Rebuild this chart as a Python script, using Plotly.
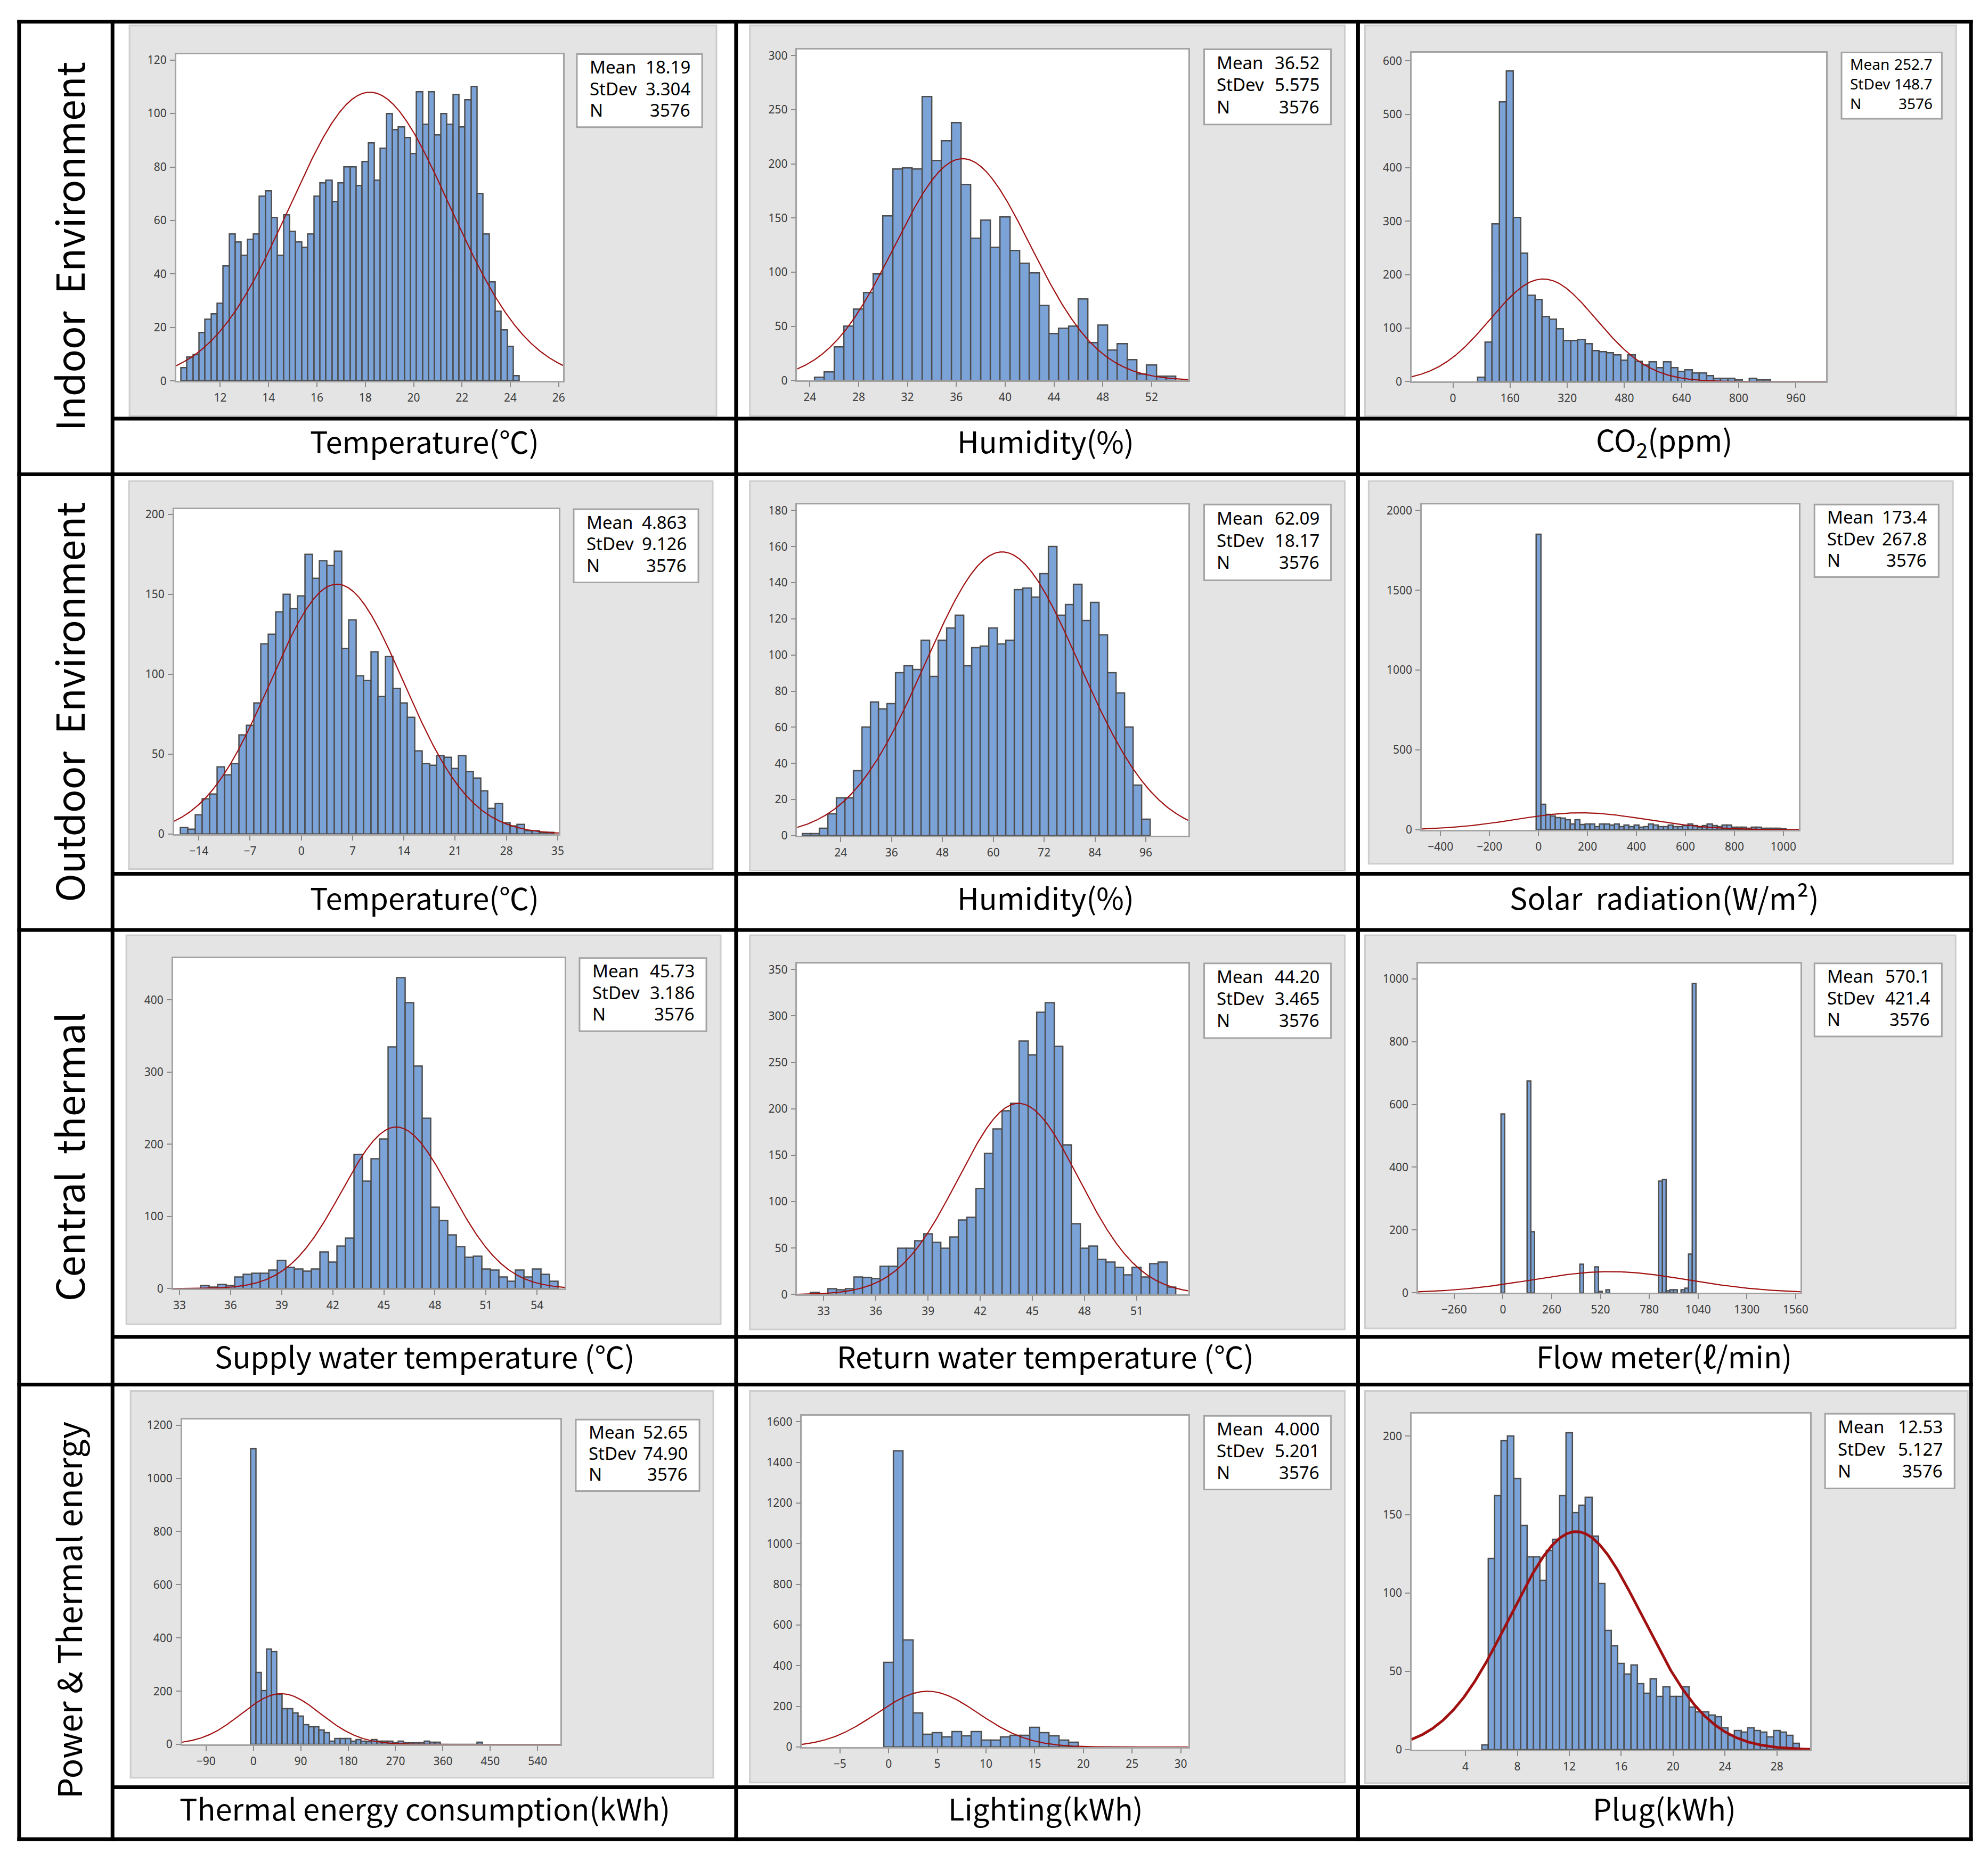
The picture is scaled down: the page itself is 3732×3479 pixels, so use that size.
import numpy as np
import plotly.graph_objects as go

W, H = 3732, 3479
N_OBS = 3576

# ------------------------------------------------------------------ data
# Indoor temperature (degC)
IN_TEMP_START, IN_TEMP_BW = 10.5, 0.25
IN_TEMP_COUNTS = [5, 9, 10, 18, 23, 25, 29, 43, 55, 52, 47, 53, 55, 69, 71, 61, 47, 62, 56, 52,
                  50, 55, 69, 74, 75, 67, 74, 80, 80, 73, 82, 89, 75, 87, 100, 94, 95, 91, 85, 108,
                  96, 108, 92, 100, 96, 107, 95, 105, 110, 70, 55, 37, 26, 19, 13, 2]
# Indoor humidity (%)
IN_HUM_START, IN_HUM_BW = 24.8, 0.8
IN_HUM_COUNTS = [3, 8, 31, 50, 66, 81, 98, 152, 195, 196, 195, 262, 203, 221, 238, 181, 131, 148,
                 123, 151, 120, 108, 99, 69, 43, 48, 50, 75, 35, 51, 28, 34, 19, 6, 14, 4, 4]
# Indoor CO2 (ppm)
CO2_START, CO2_BW = 80, 20
CO2_COUNTS = [8, 74, 295, 523, 581, 307, 240, 161, 153, 121, 116, 98, 77, 77, 79, 71, 58, 56, 54,
              50, 40, 50, 38, 31, 37, 26, 37, 26, 19, 22, 16, 16, 11, 6, 6, 6, 3, 0, 6, 3, 3]
# Outdoor temperature (degC)
OUT_TEMP_START, OUT_TEMP_BW = -16, 1
OUT_TEMP_COUNTS = [4, 3, 12, 22, 25, 42, 37, 44, 62, 68, 82, 119, 125, 139, 150, 141, 149, 175, 160,
                   171, 168, 177, 116, 134, 99, 96, 114, 86, 111, 91, 82, 73, 52, 44, 43, 49, 48, 41,
                   49, 39, 35, 27, 16, 19, 7, 5, 6, 2, 2, 1, 1]
# Outdoor humidity (%)
OUT_HUM_START, OUT_HUM_BW = 16, 2
OUT_HUM_COUNTS = [1, 1, 4, 12, 21, 21, 36, 60, 74, 70, 73, 90, 94, 92, 108, 88, 108, 115, 122, 94,
                  104, 105, 115, 106, 108, 136, 137, 132, 145, 160, 122, 128, 139, 119, 129, 111, 90,
                  79, 60, 28, 9]
# Solar radiation (W/m2)
SOLAR_START, SOLAR_BW = 0, 20
SOLAR_COUNTS = [1850, 161, 97, 85, 77, 72, 64, 37, 64, 32, 37, 37, 21, 37, 37, 29, 37, 21, 29, 21,
                29, 16, 21, 37, 29, 21, 21, 29, 21, 21, 26, 37, 26, 16, 26, 37, 26, 21, 29, 29, 16,
                16, 16, 10, 16, 16, 10, 10, 10, 10, 5]
# Supply water temperature (degC)
SUPPLY_START, SUPPLY_BW = 34.5, 0.5
SUPPLY_COUNTS = [4, 2, 6, 4, 16, 20, 21, 21, 26, 39, 29, 27, 24, 27, 51, 37, 59, 70, 186, 149, 180,
                 207, 335, 431, 396, 308, 236, 113, 94, 74, 58, 43, 45, 27, 26, 16, 10, 26, 16, 27,
                 20, 10]
# Return water temperature (degC)
RETURN_START, RETURN_BW = 32.5, 0.5
RETURN_COUNTS = [2, 0, 6, 5, 6, 19, 18, 17, 30, 30, 50, 50, 58, 65, 56, 50, 62, 80, 83, 114, 152,
                 178, 198, 206, 273, 258, 304, 314, 267, 161, 76, 50, 52, 38, 35, 29, 21, 29, 19,
                 33, 35, 8]
# Flow meter (l/min) - sparse bins
FLOW_BW = 20
FLOW_MIDS = [0, 140, 160, 420, 500, 520, 560, 840, 860, 880, 900, 920, 960, 980, 1000, 1020]
FLOW_COUNTS = [570, 674, 194, 92, 82, 5, 9, 355, 360, 6, 10, 10, 10, 15, 124, 985]
# Thermal energy consumption (kWh)
THERM_START, THERM_BW = 0, 10
THERM_COUNTS = [1110, 270, 201, 359, 349, 188, 133, 133, 118, 106, 74, 65, 65, 53, 43, 12, 22, 22,
                22, 12, 17, 12, 10, 17, 12, 12, 12, 5, 12, 5, 5, 5, 5, 12, 7, 7, 0, 0, 0, 0, 0, 0,
                0, 7]
# Lighting (kWh)
LIGHT_START, LIGHT_BW = 0, 1
LIGHT_COUNTS = [415, 1455, 525, 167, 63, 70, 48, 76, 54, 76, 34, 34, 48, 57, 57, 97, 70, 54, 34, 22]
# Plug (kWh)
PLUG_START, PLUG_BW = 5.5, 0.5
PLUG_COUNTS = [3, 122, 162, 197, 200, 173, 143, 123, 123, 108, 127, 134, 162, 202, 151, 156, 161,
               136, 106, 76, 66, 55, 48, 54, 42, 36, 45, 34, 40, 34, 34, 40, 27, 24, 24, 22, 21, 14,
               9, 12, 11, 14, 12, 11, 8, 12, 11, 9, 4]

MEANS = [18.19, 36.52, 252.7, 4.863, 62.09, 173.4, 45.73, 44.20, 570.1, 52.65, 4.000, 12.53]
STDEVS = [3.304, 5.575, 148.7, 9.126, 18.17, 267.8, 3.186, 3.465, 421.4, 74.90, 5.201, 5.127]
MEAN_TXT = ["18.19", "36.52", "252.7", "4.863", "62.09", "173.4", "45.73", "44.20", "570.1", "52.65", "4.000", "12.53"]
SD_TXT = ["3.304", "5.575", "148.7", "9.126", "18.17", "267.8", "3.186", "3.465", "421.4", "74.90", "5.201", "5.127"]

X_TICKS = [
    [12, 14, 16, 18, 20, 22, 24, 26],
    [24, 28, 32, 36, 40, 44, 48, 52],
    [0, 160, 320, 480, 640, 800, 960],
    [-14, -7, 0, 7, 14, 21, 28, 35],
    [24, 36, 48, 60, 72, 84, 96],
    [-400, -200, 0, 200, 400, 600, 800, 1000],
    [33, 36, 39, 42, 45, 48, 51, 54],
    [33, 36, 39, 42, 45, 48, 51],
    [-260, 0, 260, 520, 780, 1040, 1300, 1560],
    [-90, 0, 90, 180, 270, 360, 450, 540],
    [-5, 0, 5, 10, 15, 20, 25, 30],
    [4, 8, 12, 16, 20, 24, 28],
]
Y_TICKS = [
    [0, 20, 40, 60, 80, 100, 120],
    [0, 50, 100, 150, 200, 250, 300],
    [0, 100, 200, 300, 400, 500, 600],
    [0, 50, 100, 150, 200],
    [0, 20, 40, 60, 80, 100, 120, 140, 160, 180],
    [0, 500, 1000, 1500, 2000],
    [0, 100, 200, 300, 400],
    [0, 50, 100, 150, 200, 250, 300, 350],
    [0, 200, 400, 600, 800, 1000],
    [0, 200, 400, 600, 800, 1000, 1200],
    [0, 200, 400, 600, 800, 1000, 1200, 1400, 1600],
    [0, 50, 100, 150, 200],
]
X_RANGES = [[10.18, 26.18], [22.96, 55.0], [-115.5, 1044.6], [-17.38, 35.16], [13.71, 106.0],
            [-476.9, 1064], [32.62, 55.62], [31.47, 53.96], [-452.5, 1587], [-135.5, 583.3],
            [-8.91, 30.77], [-0.15, 30.57]]
Y_MAX = [122.2, 305.7, 615.8, 203.2, 183.3, 2037, 458, 356.7, 1049, 1221, 1629, 214.3]

COL_LABELS = ["Temperature(℃)", "Humidity(%)", "CO<sub>2</sub>(ppm)",
              "Temperature(℃)", "Humidity(%)", "Solar\u00a0 radiation(W/m²)",
              "Supply water temperature (℃)", "Return water temperature (℃)", "Flow meter(ℓ/min)",
              "Thermal energy consumption(kWh)", "Lighting(kWh)", "Plug(kWh)"]
ROW_LABELS = ["Indoor\u00a0 Environment", "Outdoor\u00a0 Environment", "Central\u00a0 thermal",
              "Power & Thermal energy"]


def bins(start, bw, counts):
    return [start + bw * i for i in range(len(counts))]


HIST = [
    (bins(IN_TEMP_START, IN_TEMP_BW, IN_TEMP_COUNTS), IN_TEMP_COUNTS, IN_TEMP_BW),
    (bins(IN_HUM_START, IN_HUM_BW, IN_HUM_COUNTS), IN_HUM_COUNTS, IN_HUM_BW),
    (bins(CO2_START, CO2_BW, CO2_COUNTS), CO2_COUNTS, CO2_BW),
    (bins(OUT_TEMP_START, OUT_TEMP_BW, OUT_TEMP_COUNTS), OUT_TEMP_COUNTS, OUT_TEMP_BW),
    (bins(OUT_HUM_START, OUT_HUM_BW, OUT_HUM_COUNTS), OUT_HUM_COUNTS, OUT_HUM_BW),
    (bins(SOLAR_START, SOLAR_BW, SOLAR_COUNTS), SOLAR_COUNTS, SOLAR_BW),
    (bins(SUPPLY_START, SUPPLY_BW, SUPPLY_COUNTS), SUPPLY_COUNTS, SUPPLY_BW),
    (bins(RETURN_START, RETURN_BW, RETURN_COUNTS), RETURN_COUNTS, RETURN_BW),
    (FLOW_MIDS, FLOW_COUNTS, FLOW_BW),
    (bins(THERM_START, THERM_BW, THERM_COUNTS), THERM_COUNTS, THERM_BW),
    (bins(LIGHT_START, LIGHT_BW, LIGHT_COUNTS), LIGHT_COUNTS, LIGHT_BW),
    (bins(PLUG_START, PLUG_BW, PLUG_COUNTS), PLUG_COUNTS, PLUG_BW),
]

# ------------------------------------------------------------------ layout geometry (pixels)
PLOT_BOX = [(324, 1053, 89, 706), (1494, 2231, 80, 705), (2652, 3433, 86, 707),
            (320, 1045, 948, 1561), (1494, 2231, 939, 1564), (2671, 3382, 939, 1553),
            (318, 1056, 1795, 2419), (1494, 2231, 1805, 2430), (2664, 3385, 1805, 2427),
            (335, 1048, 2666, 3279), (1503, 2231, 2659, 3284), (2652, 3403, 2655, 3289)]
STAT_BOX = [(1079, 1315, 89, 227), (2261, 2500, 80, 222), (3462, 3651, 86, 211),
            (1073, 1308, 948, 1086), (2261, 2500, 939, 1082), (3411, 3645, 939, 1076),
            (1084, 1323, 1795, 1933), (2261, 2500, 1805, 1946), (3411, 3651, 1805, 1943),
            (1077, 1310, 2666, 2801), (2261, 2500, 2659, 2798), (3431, 3675, 2655, 2796)]
GREY_BOX = [(236, 1342, 35, 772), (1405, 2526, 35, 772), (2564, 3678, 35, 772),
            (235, 1335, 895, 1627), (1405, 2526, 895, 1630), (2571, 3672, 895, 1617),
            (230, 1350, 1752, 2486), (1405, 2526, 1752, 2496), (2564, 3677, 1752, 2494),
            (238, 1336, 2612, 3342), (1405, 2526, 2612, 3351), (2564, 3700, 2612, 3352)]
COL_CENTERS = [792, 1962, 3128]
ROW_LABEL_Y = [818, 1679, 2545, 3398]
ROW_CENTERS = [452, 1312, 2171, 3026]


def px(x):
    return x / W


def py(y):
    return 1 - y / H


fig = go.Figure()
shapes = []
annotations = []
layout = {}

BAR_FILL = "#7BA3D8"
BAR_LINE = "#4d4d4d"
CURVE = "#A01010"
TICK_FONT = dict(family="Noto Sans", size=21, color="#3a3a3a")

for i in range(12):
    k = i + 1
    xs, cs, bw = HIST[i]
    xa = "x" if k == 1 else f"x{k}"
    ya = "y" if k == 1 else f"y{k}"
    fig.add_trace(go.Bar(x=xs, y=cs, width=bw, xaxis=xa, yaxis=ya,
                         marker=dict(color=BAR_FILL, line=dict(color=BAR_LINE, width=2.5)),
                         showlegend=False, hoverinfo="x+y"))
    cx = np.linspace(X_RANGES[i][0], X_RANGES[i][1], 500)
    cy = N_OBS * bw / (STDEVS[i] * np.sqrt(2 * np.pi)) * np.exp(-0.5 * ((cx - MEANS[i]) / STDEVS[i]) ** 2)
    fig.add_trace(go.Scatter(x=cx, y=cy, mode="lines", xaxis=xa, yaxis=ya,
                             line=dict(color=CURVE, width=5 if k == 12 else 2.2),
                             showlegend=False, hoverinfo="skip"))
    x0, x1, y0, y1 = PLOT_BOX[i]
    axis_common = dict(showline=True, mirror=True, linecolor="#a3a3a3", linewidth=2.5,
                       ticks="outside", ticklen=9, tickwidth=2, tickcolor="#8a8a8a",
                       showgrid=False, zeroline=False, tickfont=TICK_FONT, fixedrange=True)
    layout["xaxis" if k == 1 else f"xaxis{k}"] = dict(
        domain=[px(x0), px(x1)], range=X_RANGES[i], tickvals=X_TICKS[i], anchor=ya,
        ticklabelstandoff=2, **axis_common)
    layout["yaxis" if k == 1 else f"yaxis{k}"] = dict(
        domain=[py(y1), py(y0)], range=[0, Y_MAX[i]], tickvals=Y_TICKS[i], anchor=xa,
        ticklabelstandoff=2, **axis_common)

    gx0, gx1, gy0, gy1 = GREY_BOX[i]
    shapes.append(dict(type="rect", xref="paper", yref="paper", layer="below",
                       x0=px(gx0), x1=px(gx1), y0=py(gy1), y1=py(gy0),
                       fillcolor="#e4e4e4", line=dict(color="#cdcdcd", width=3)))
    shapes.append(dict(type="rect", xref="paper", yref="paper", layer="below",
                       x0=px(x0), x1=px(x1), y0=py(y1), y1=py(y0),
                       fillcolor="white", line=dict(width=0)))
    sx0, sx1, sy0, sy1 = STAT_BOX[i]
    shapes.append(dict(type="rect", xref="paper", yref="paper", layer="below",
                       x0=px(sx0), x1=px(sx1), y0=py(sy1), y1=py(sy0),
                       fillcolor="white", line=dict(color="#a3a3a3", width=3)))
    sh = sy1 - sy0
    fs = 28 if k == 3 else 33
    pad_l = 14 if k == 3 else 22
    pad_r = 15 if k == 3 else 20
    rows = [("Mean", MEAN_TXT[i]), ("StDev", SD_TXT[i]), ("N", str(N_OBS))]
    for r, (lab, val) in enumerate(rows):
        yy = sy0 + sh * (0.175 + 0.295 * r)
        annotations.append(dict(xref="paper", yref="paper", x=px(sx0 + pad_l), y=py(yy),
                                xanchor="left", yanchor="middle", text=lab, showarrow=False,
                                font=dict(family="Noto Sans", size=fs, color="black")))
        annotations.append(dict(xref="paper", yref="paper", x=px(sx1 - pad_r), y=py(yy),
                                xanchor="right", yanchor="middle", text=val, showarrow=False,
                                font=dict(family="Noto Sans", size=fs, color="black")))
    # column label
    annotations.append(dict(xref="paper", yref="paper", x=px(COL_CENTERS[i % 3]),
                            y=py(ROW_LABEL_Y[i // 3]), xanchor="center", yanchor="middle",
                            text=COL_LABELS[i], showarrow=False,
                            font=dict(family="Noto Sans CJK KR", size=56, color="black")))

for r in range(4):
    annotations.append(dict(xref="paper", yref="paper", x=px(120), y=py(ROW_CENTERS[r]),
                            xanchor="center", yanchor="middle", text=ROW_LABELS[r],
                            textangle=-90, showarrow=False,
                            font=dict(family="Noto Sans CJK KR", size=62 if r == 3 else 72,
                                      color="black")))

# black table grid
LW = 7
VLINES = [28, 204, 1379, 2551, 3706]
HLINES = [28, 882, 1742, 2600, 3458]
STRIP_LINES = [777, 1636, 2510, 3360]
for xv in VLINES:
    shapes.append(dict(type="line", xref="paper", yref="paper", layer="above",
                       x0=px(xv), x1=px(xv), y0=py(HLINES[0] - LW / 2), y1=py(HLINES[-1] + LW / 2),
                       line=dict(color="black", width=LW)))
for yv in HLINES:
    shapes.append(dict(type="line", xref="paper", yref="paper", layer="above",
                       x0=px(VLINES[0] - LW / 2), x1=px(VLINES[-1] + LW / 2), y0=py(yv), y1=py(yv),
                       line=dict(color="black", width=LW)))
for yv in STRIP_LINES:
    shapes.append(dict(type="line", xref="paper", yref="paper", layer="above",
                       x0=px(VLINES[1]), x1=px(VLINES[-1]), y0=py(yv), y1=py(yv),
                       line=dict(color="black", width=LW)))

fig.update_layout(
    width=W, height=H, margin=dict(l=0, r=0, t=0, b=0),
    paper_bgcolor="white", plot_bgcolor="rgba(0,0,0,0)",
    bargap=0, barmode="overlay", showlegend=False,
    shapes=shapes, annotations=annotations, **layout,
)
fig.write_html("out.html")
